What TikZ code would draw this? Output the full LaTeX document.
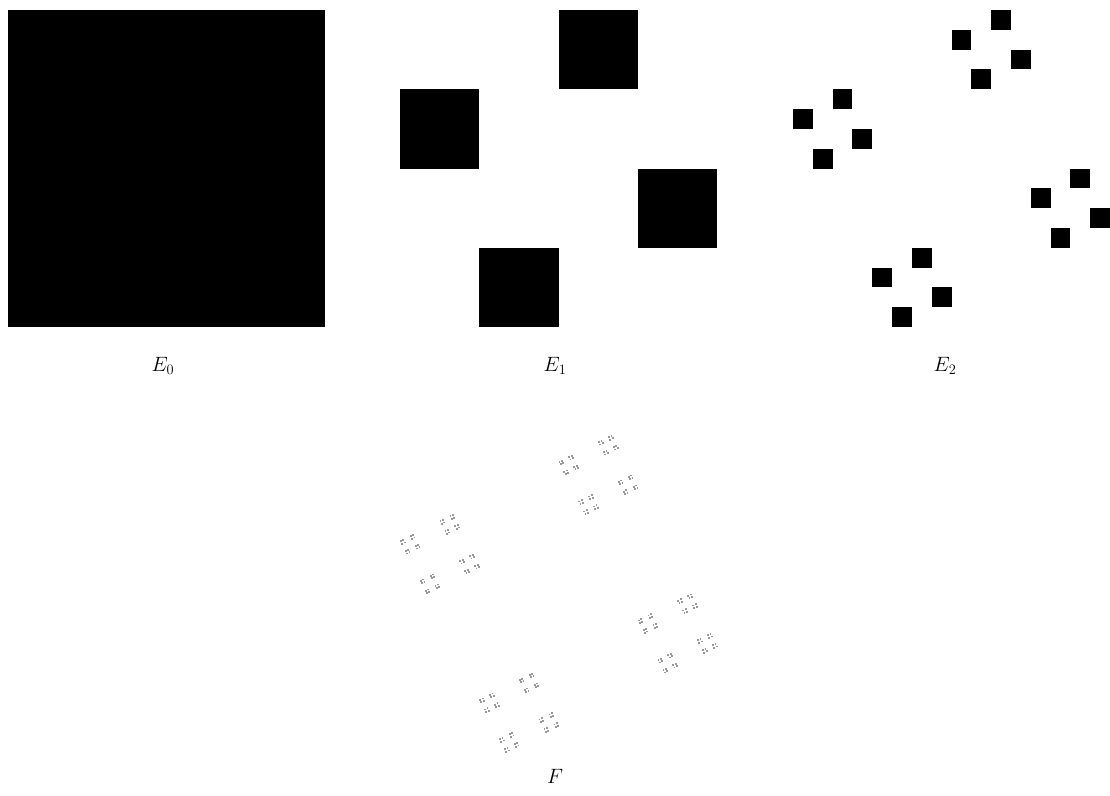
\documentclass[tikz,border=0pt]{standalone}
\begin{document}
\begin{tikzpicture}[x=1pt,y=-1pt,
  lab/.style={font=\fontsize{21}{24}\selectfont, inner sep=0pt},
  solid square/.style={fill=black},
  faint square/.style={fill=black!40}]
\useasboundingbox (0,0) rectangle (1110,795);
\def\S{317}
% E0
\fill[solid square] (8,10) rectangle ++(\S,\S);
% E1
\foreach \a/\b in {0/1,2/0,3/2,1/3}
  \fill[solid square] ({400+\S*\a/4},{10+\S*\b/4}) rectangle ++({\S/4},{\S/4});
% E2
\foreach \a/\b in {0/1,2/0,3/2,1/3}
  \foreach \c/\d in {0/1,2/0,3/2,1/3}
    \fill[solid square] ({793+\S*(\a/4+\c/16)},{10+\S*(\b/4+\d/16)}) rectangle ++({\S/16},{\S/16});
% F (level 4 approximation)
\foreach \a/\b in {0/1,2/0,3/2,1/3}
  \foreach \c/\d in {0/1,2/0,3/2,1/3}
    \foreach \e/\f in {0/1,2/0,3/2,1/3}
      \foreach \g/\h in {0/1,2/0,3/2,1/3}
        \fill[faint square] ({400+\S*(\a/4+\c/16+\e/64+\g/256)},{435+\S*(\b/4+\d/16+\f/64+\h/256)}) rectangle ++(1.8,1.8);
% labels
\node[lab] (l0) at (163,366) {$E_0$};
\node[lab] (l1) at (555,366) {$E_1$};
\node[lab] (l2) at (945,366) {$E_2$};
\node[lab] (lf) at (555,776) {$F$};
\end{tikzpicture}
\end{document}
